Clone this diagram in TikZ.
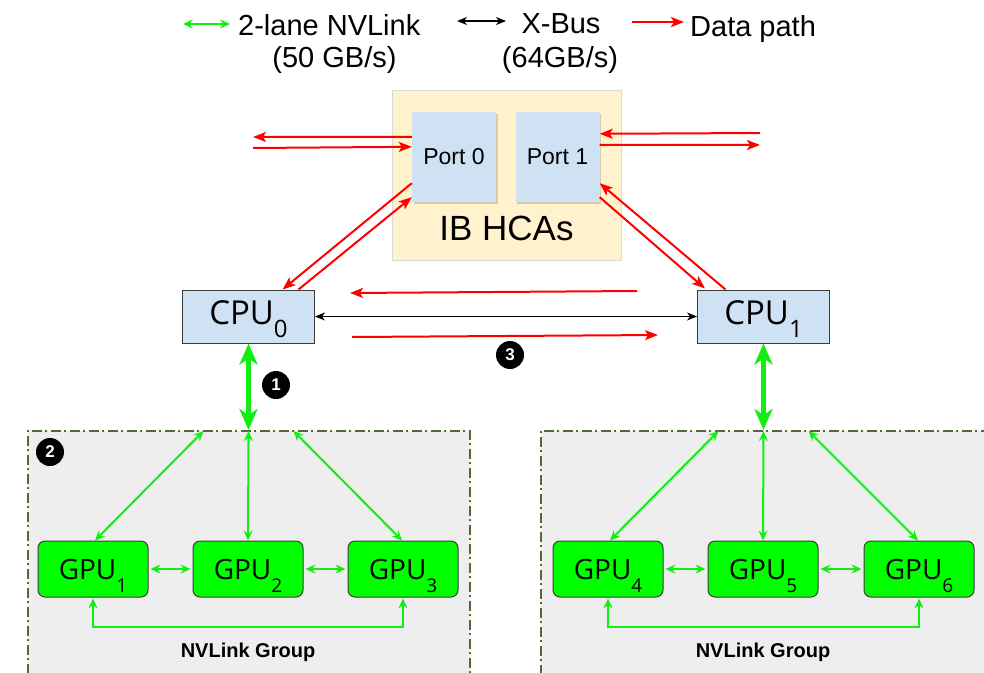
\documentclass[tikz,border=0pt]{standalone}
\usepackage{fontspec}
\setmainfont{Liberation Sans}
\newfontfamily\boxfont{Open Sans}
\usetikzlibrary{arrows.meta,shadows,calc}

\definecolor{portblue}{HTML}{CFE2F3}
\definecolor{hcabg}{HTML}{FFF2CC}
\definecolor{hcaborder}{HTML}{D9D9D9}
\definecolor{gpugreen}{HTML}{00FF00}
\definecolor{linkgreen}{HTML}{11EE11}
\definecolor{groupbg}{HTML}{EEEEEE}
\definecolor{groupedge}{HTML}{4E6B3A}
\definecolor{edgegray}{HTML}{3C3C3C}

% lowered index digits for CPU/GPU labels (no effect on the label's box)
\newcommand\cpuidx[1]{\raisebox{-13pt}[0pt][0pt]{\fontsize{24}{24}\selectfont #1}}
\newcommand\gpuidx[1]{\raisebox{-13pt}[0pt][0pt]{\fontsize{19}{19}\selectfont #1}}

\begin{document}
\begin{tikzpicture}[x=1pt,y=-1pt,
  legendtext/.style={inner sep=0pt, font=\fontsize{29}{30}\selectfont},
  portbox/.style={fill=portblue, minimum width=84pt, minimum height=90pt, inner sep=0pt,
    drop shadow={opacity=0.35, shadow xshift=1.5pt, shadow yshift=-1.5pt},
    font=\fontsize{23}{26}\selectfont},
  hcabox/.style={fill=hcabg, draw=hcaborder, line width=0.8pt, minimum width=229pt,
    minimum height=170pt, inner sep=0pt},
  cpubox/.style={draw=edgegray, line width=1pt, fill=portblue, minimum width=132pt,
    minimum height=53pt, inner sep=0pt, text height=23.5pt, text depth=8pt,
    font=\boxfont\fontsize{33}{36}\selectfont},
  gpubox/.style={draw=edgegray, line width=1pt, fill=gpugreen, rounded corners=7pt,
    minimum width=110pt, minimum height=56pt, inner sep=0pt,
    font=\boxfont\fontsize{28}{32}\selectfont},
  groupbox/.style={fill=groupbg, draw=groupedge, line width=1.6pt,
    dash pattern=on 10pt off 3.5pt on 2pt off 3.5pt, inner sep=0pt, anchor=north west},
  marker/.style={circle, fill=black, text=white, minimum size=28pt, inner sep=0pt,
    font=\bfseries\fontsize{17}{17}\selectfont},
  grouplabel/.style={font=\bfseries\fontsize{20}{22}\selectfont},
  datapath/.style={draw=red, line width=2pt, -{Stealth[length=13pt,width=10pt,inset=3pt]}},
  xbus/.style={draw=black, line width=1.3pt,
    {Stealth[length=10pt,width=8pt,inset=3pt]}-{Stealth[length=10pt,width=8pt,inset=3pt]}},
  nvl/.style={draw=linkgreen, line width=2pt,
    {Stealth[length=10pt,width=9pt,inset=3.5pt]}-{Stealth[length=10pt,width=9pt,inset=3.5pt]}},
  nvlthick/.style={draw=linkgreen, line width=4.2pt,
    {Stealth[length=21pt,width=18pt,inset=6pt]}-{Stealth[length=21pt,width=18pt,inset=6pt]}},
]
\clip (0,0) rectangle (984,672);
\fill[white] (0,0) rectangle (984,672);

% ---------- legend ----------
\node[legendtext, anchor=base west] (lgnv) at (238,35) {2-lane NVLink};
\node[legendtext, anchor=base] (lgnvbw) at (334.5,67) {(50 GB/s)};
\node[legendtext, anchor=base] (lgxb) at (561,33) {X-Bus};
\node[legendtext, anchor=base] (lgxbbw) at (560,67) {(64GB/s)};
\node[legendtext, anchor=base west] (lgdp) at (690,36) {Data path};
\coordinate (lgnvA) at (183,24);  \coordinate (lgnvB) at (230,24);
\coordinate (lgxbA) at (457,21);  \coordinate (lgxbB) at (506,21);
\coordinate (lgdpA) at (632,22);  \coordinate (lgdpB) at (684,22);
\draw[nvl, line width=1.6pt] (lgnvA) -- (lgnvB);
\draw[xbus] (lgxbA) -- (lgxbB);
\draw[datapath] (lgdpA) -- (lgdpB);

% ---------- IB HCAs ----------
\node[hcabox] (hca) at (506.5,175) {};
\node[font=\fontsize{35}{38}\selectfont] (hcalbl) at (506.5,228) {IB HCAs};
\node[portbox] (p0) at (454,157) {Port 0};
\node[portbox] (p1) at (557.5,157) {Port 1};

% ---------- CPUs ----------
\node[cpubox] (cpu0) at (248.5,316.5) {CPU\cpuidx{0}};
\node[cpubox] (cpu1) at (763.5,316.5) {CPU\cpuidx{1}};
\draw[xbus] (cpu0.east) -- (cpu1.west);

% ---------- NVLink groups ----------
\node[groupbox, minimum width=442pt, minimum height=270pt] (grpL) at (27,430) {};
\node[groupbox, minimum width=470pt, minimum height=270pt] (grpR) at (540,430) {};
\coordinate (hubL) at (cpu0.south |- grpL.north);
\coordinate (hubR) at (cpu1.south |- grpR.north);

\node[gpubox] (g1) at (93,569) {GPU\gpuidx{1}};
\node[gpubox] (g2) at (248,569) {GPU\gpuidx{2}};
\node[gpubox] (g3) at (403,569) {GPU\gpuidx{3}};
\node[gpubox] (g4) at (608,569) {GPU\gpuidx{4}};
\node[gpubox] (g5) at (763,569) {GPU\gpuidx{5}};
\node[gpubox] (g6) at (919,569) {GPU\gpuidx{6}};

\node[grouplabel] (lblL) at (248,652) {NVLink Group};
\node[grouplabel] (lblR) at (763,652) {NVLink Group};

% CPU to group links
\draw[nvlthick] (cpu0.south) -- (hubL);
\draw[nvlthick] (cpu1.south) -- (hubR);

% hub to GPUs
\draw[nvl] ($(hubL)+(-45,1)$) -- ($(g1.north)+(2,0)$);
\draw[nvl] ($(hubL)+(0,1)$) -- (g2.north);
\draw[nvl] ($(hubL)+(45,1)$) -- ($(g3.north)+(-1,0)$);
\draw[nvl] ($(hubR)+(-45,1)$) -- ($(g4.north)+(2,0)$);
\draw[nvl] ($(hubR)+(0,1)$) -- (g5.north);
\draw[nvl] ($(hubR)+(45,1)$) -- ($(g6.north)+(-1,0)$);

% GPU to GPU links
\draw[nvl, shorten <=2pt, shorten >=2pt] (g1.east) -- (g2.west);
\draw[nvl, shorten <=2pt, shorten >=2pt] (g2.east) -- (g3.west);
\draw[nvl, shorten <=2pt, shorten >=2pt] (g4.east) -- (g5.west);
\draw[nvl, shorten <=2pt, shorten >=2pt] (g5.east) -- (g6.west);
\draw[nvl, shorten <=1pt, shorten >=1pt] (g1.south) -- ++(0,29) -| (g3.south);
\draw[nvl, shorten <=1pt, shorten >=1pt] (g4.south) -- ++(0,29) -| (g6.south);

% ---------- data paths ----------
\coordinate (extL1) at (253,137);  \coordinate (extL2) at (253,148);
\coordinate (extR1) at (760,133);  \coordinate (extR2) at (760,145);
\draw[datapath] ($(p0.north west)+(0,25)$) -- (extL1);
\draw[datapath] (extL2) -- ($(p0.north west)+(0,35)$);
\draw[datapath] (extR1) -- ($(p1.north east)+(0,22)$);
\draw[datapath] ($(p1.north east)+(0,33)$) -- (extR2);

\draw[datapath] ($(p0.south west)+(0,-19)$) -- ($(cpu0.north)+(34,0)$);
\draw[datapath] ($(cpu0.north)+(50,0)$) -- ($(p0.south west)+(0,-5)$);
\draw[datapath] ($(cpu1.north)+(-38,0)$) -- ($(p1.south east)+(0,-19)$);
\draw[datapath] ($(p1.south east)+(0,-5)$) -- ($(cpu1.north west)+(8,-1)$);

\coordinate (xbT1) at (637,291);  \coordinate (xbT2) at (350,293);
\coordinate (xbB1) at (352,337);  \coordinate (xbB2) at (658,335);
\draw[datapath] (xbT1) -- (xbT2);
\draw[datapath] (xbB1) -- (xbB2);

% ---------- step markers ----------
\node[marker] (m1) at (276,385) {1};
\node[marker] (m2) at (50,452) {2};
\node[marker] (m3) at (510,355) {3};
\end{tikzpicture}
\end{document}
